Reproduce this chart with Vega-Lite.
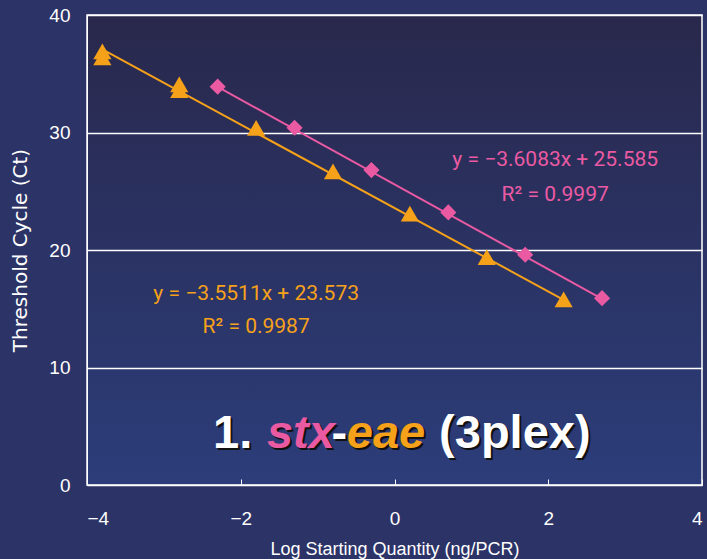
{
  "$schema": "https://vega.github.io/schema/vega-lite/v6.json",
  "width": 615,
  "height": 470,
  "autosize": {"type": "none"},
  "padding": {"left": 87, "top": 15, "right": 5, "bottom": 74},
  "background": "#2c3366",
  "config": {
    "view": {
      "stroke": "#ffffff",
      "strokeWidth": 1.5,
      "fill": {
        "gradient": "linear",
        "x1": 0, "y1": 0, "x2": 0, "y2": 1,
        "stops": [
          {"offset": 0, "color": "#29284c"},
          {"offset": 1, "color": "#2c3d7a"}
        ]
      }
    },
    "axis": {
      "labelColor": "#ffffff",
      "titleColor": "#ffffff",
      "domainColor": "#ffffff",
      "tickColor": "#ffffff",
      "gridColor": "#ffffff",
      "labelFont": "Liberation Sans",
      "titleFont": "Liberation Sans",
      "labelFontSize": 19,
      "titleFontSize": 18,
      "titleFontWeight": "normal"
    }
  },
  "datasets": {
    "pts": [
      {"x": -3.8, "ct": 36.4, "assay": "eae"},
      {"x": -3.8, "ct": 36.9, "assay": "eae"},
      {"x": -2.8, "ct": 33.6, "assay": "eae"},
      {"x": -2.8, "ct": 34.1, "assay": "eae"},
      {"x": -1.8, "ct": 30.4, "assay": "eae"},
      {"x": -0.8, "ct": 26.7, "assay": "eae"},
      {"x": 0.2, "ct": 23.1, "assay": "eae"},
      {"x": 1.2, "ct": 19.4, "assay": "eae"},
      {"x": 2.2, "ct": 15.8, "assay": "eae"},
      {"x": -2.3, "ct": 33.9, "assay": "stx"},
      {"x": -1.3, "ct": 30.4, "assay": "stx"},
      {"x": -0.3, "ct": 26.8, "assay": "stx"},
      {"x": 0.7, "ct": 23.2, "assay": "stx"},
      {"x": 1.7, "ct": 19.6, "assay": "stx"},
      {"x": 2.7, "ct": 15.9, "assay": "stx"}
    ],
    "fit": [
      {"x": -3.8, "ct": 37.07, "assay": "eae"},
      {"x": 2.2, "ct": 15.76, "assay": "eae"},
      {"x": -2.3, "ct": 33.88, "assay": "stx"},
      {"x": 2.7, "ct": 15.84, "assay": "stx"}
    ],
    "eq": [
      {"x": 2.09, "ct": 27.15, "label": "y = −3.6083x + 25.585", "assay": "stx"},
      {"x": 2.09, "ct": 24.15, "label": "R² = 0.9997", "assay": "stx"},
      {"x": -1.8, "ct": 15.75, "label": "y = −3.5511x + 23.573", "assay": "eae"},
      {"x": -1.8, "ct": 12.9, "label": "R² = 0.9987", "assay": "eae"}
    ],
    "title": [
      {"x": -2.36, "ct": 3.15, "label": "1.", "assay": "w", "style": "normal"},
      {"x": -1.66, "ct": 3.15, "label": "stx", "assay": "stx", "style": "italic"},
      {"x": -0.82, "ct": 3.15, "label": "-", "assay": "w", "style": "normal"},
      {"x": -0.62, "ct": 3.15, "label": "eae", "assay": "eae", "style": "italic"},
      {"x": 0.58, "ct": 3.15, "label": "(3plex)", "assay": "w", "style": "normal"}
    ]
  },
  "encoding": {
    "x": {
      "field": "x", "type": "quantitative",
      "scale": {"domain": [-4, 4], "nice": false},
      "axis": {
        "title": "Log Starting Quantity (ng/PCR)",
        "values": [-4, -2, 0, 2, 4],
        "format": "d",
        "grid": false,
        "tickSize": -6,
        "labelPadding": 30,
        "titlePadding": 12,
        "labelFontSize": 19
      }
    },
    "y": {
      "field": "ct", "type": "quantitative",
      "scale": {"domain": [0, 40], "nice": false},
      "axis": {
        "title": "Threshold Cycle (Ct)",
        "titleFont": "DejaVu Sans",
        "titleFontSize": 20,
        "values": [0, 10, 20, 30, 40],
        "grid": true,
        "gridWidth": 1.5,
        "ticks": false,
        "labelPadding": 17,
        "titlePadding": 18
      }
    }
  },
  "layer": [
    {
      "data": {"name": "fit"},
      "mark": {"type": "line", "strokeWidth": 2},
      "encoding": {
        "detail": {"field": "assay"},
        "color": {"field": "assay", "type": "nominal", "scale": {"domain": ["stx", "eae", "w"], "range": ["#ea5aa3", "#f6a11a", "#ffffff"]}, "legend": null}
      }
    },
    {
      "data": {"name": "pts"},
      "mark": {"type": "point", "filled": true, "opacity": 1},
      "encoding": {
        "color": {"field": "assay", "type": "nominal", "legend": null},
        "shape": {"field": "assay", "type": "nominal", "scale": {"domain": ["stx", "eae"], "range": ["diamond", "triangle-up"]}, "legend": null},
        "size": {"field": "assay", "type": "nominal", "scale": {"domain": ["stx", "eae"], "range": [260, 330]}, "legend": null}
      }
    },
    {
      "data": {"name": "eq"},
      "mark": {"type": "text", "font": "Roboto", "fontSize": 21, "align": "center", "baseline": "alphabetic"},
      "encoding": {
        "text": {"field": "label"},
        "color": {"field": "assay", "type": "nominal", "legend": null}
      }
    },
    {
      "data": {"name": "title"},
      "transform": [{"filter": "datum.style == 'normal'"}],
      "mark": {"type": "text", "font": "Liberation Sans", "fontSize": 47, "fontWeight": "bold", "fontStyle": "normal", "align": "left", "baseline": "alphabetic", "dx": 2, "dy": 2, "color": "#111111"},
      "encoding": {"text": {"field": "label"}}
    },
    {
      "data": {"name": "title"},
      "transform": [{"filter": "datum.style == 'italic'"}],
      "mark": {"type": "text", "font": "Liberation Sans", "fontSize": 47, "fontWeight": "bold", "fontStyle": "italic", "align": "left", "baseline": "alphabetic", "dx": 2, "dy": 2, "color": "#111111"},
      "encoding": {"text": {"field": "label"}}
    },
    {
      "data": {"name": "title"},
      "transform": [{"filter": "datum.style == 'normal'"}],
      "mark": {"type": "text", "font": "Liberation Sans", "fontSize": 47, "fontWeight": "bold", "fontStyle": "normal", "align": "left", "baseline": "alphabetic"},
      "encoding": {
        "text": {"field": "label"},
        "color": {"field": "assay", "type": "nominal", "legend": null}
      }
    },
    {
      "data": {"name": "title"},
      "transform": [{"filter": "datum.style == 'italic'"}],
      "mark": {"type": "text", "font": "Liberation Sans", "fontSize": 47, "fontWeight": "bold", "fontStyle": "italic", "align": "left", "baseline": "alphabetic"},
      "encoding": {
        "text": {"field": "label"},
        "color": {"field": "assay", "type": "nominal", "legend": null}
      }
    }
  ]
}
